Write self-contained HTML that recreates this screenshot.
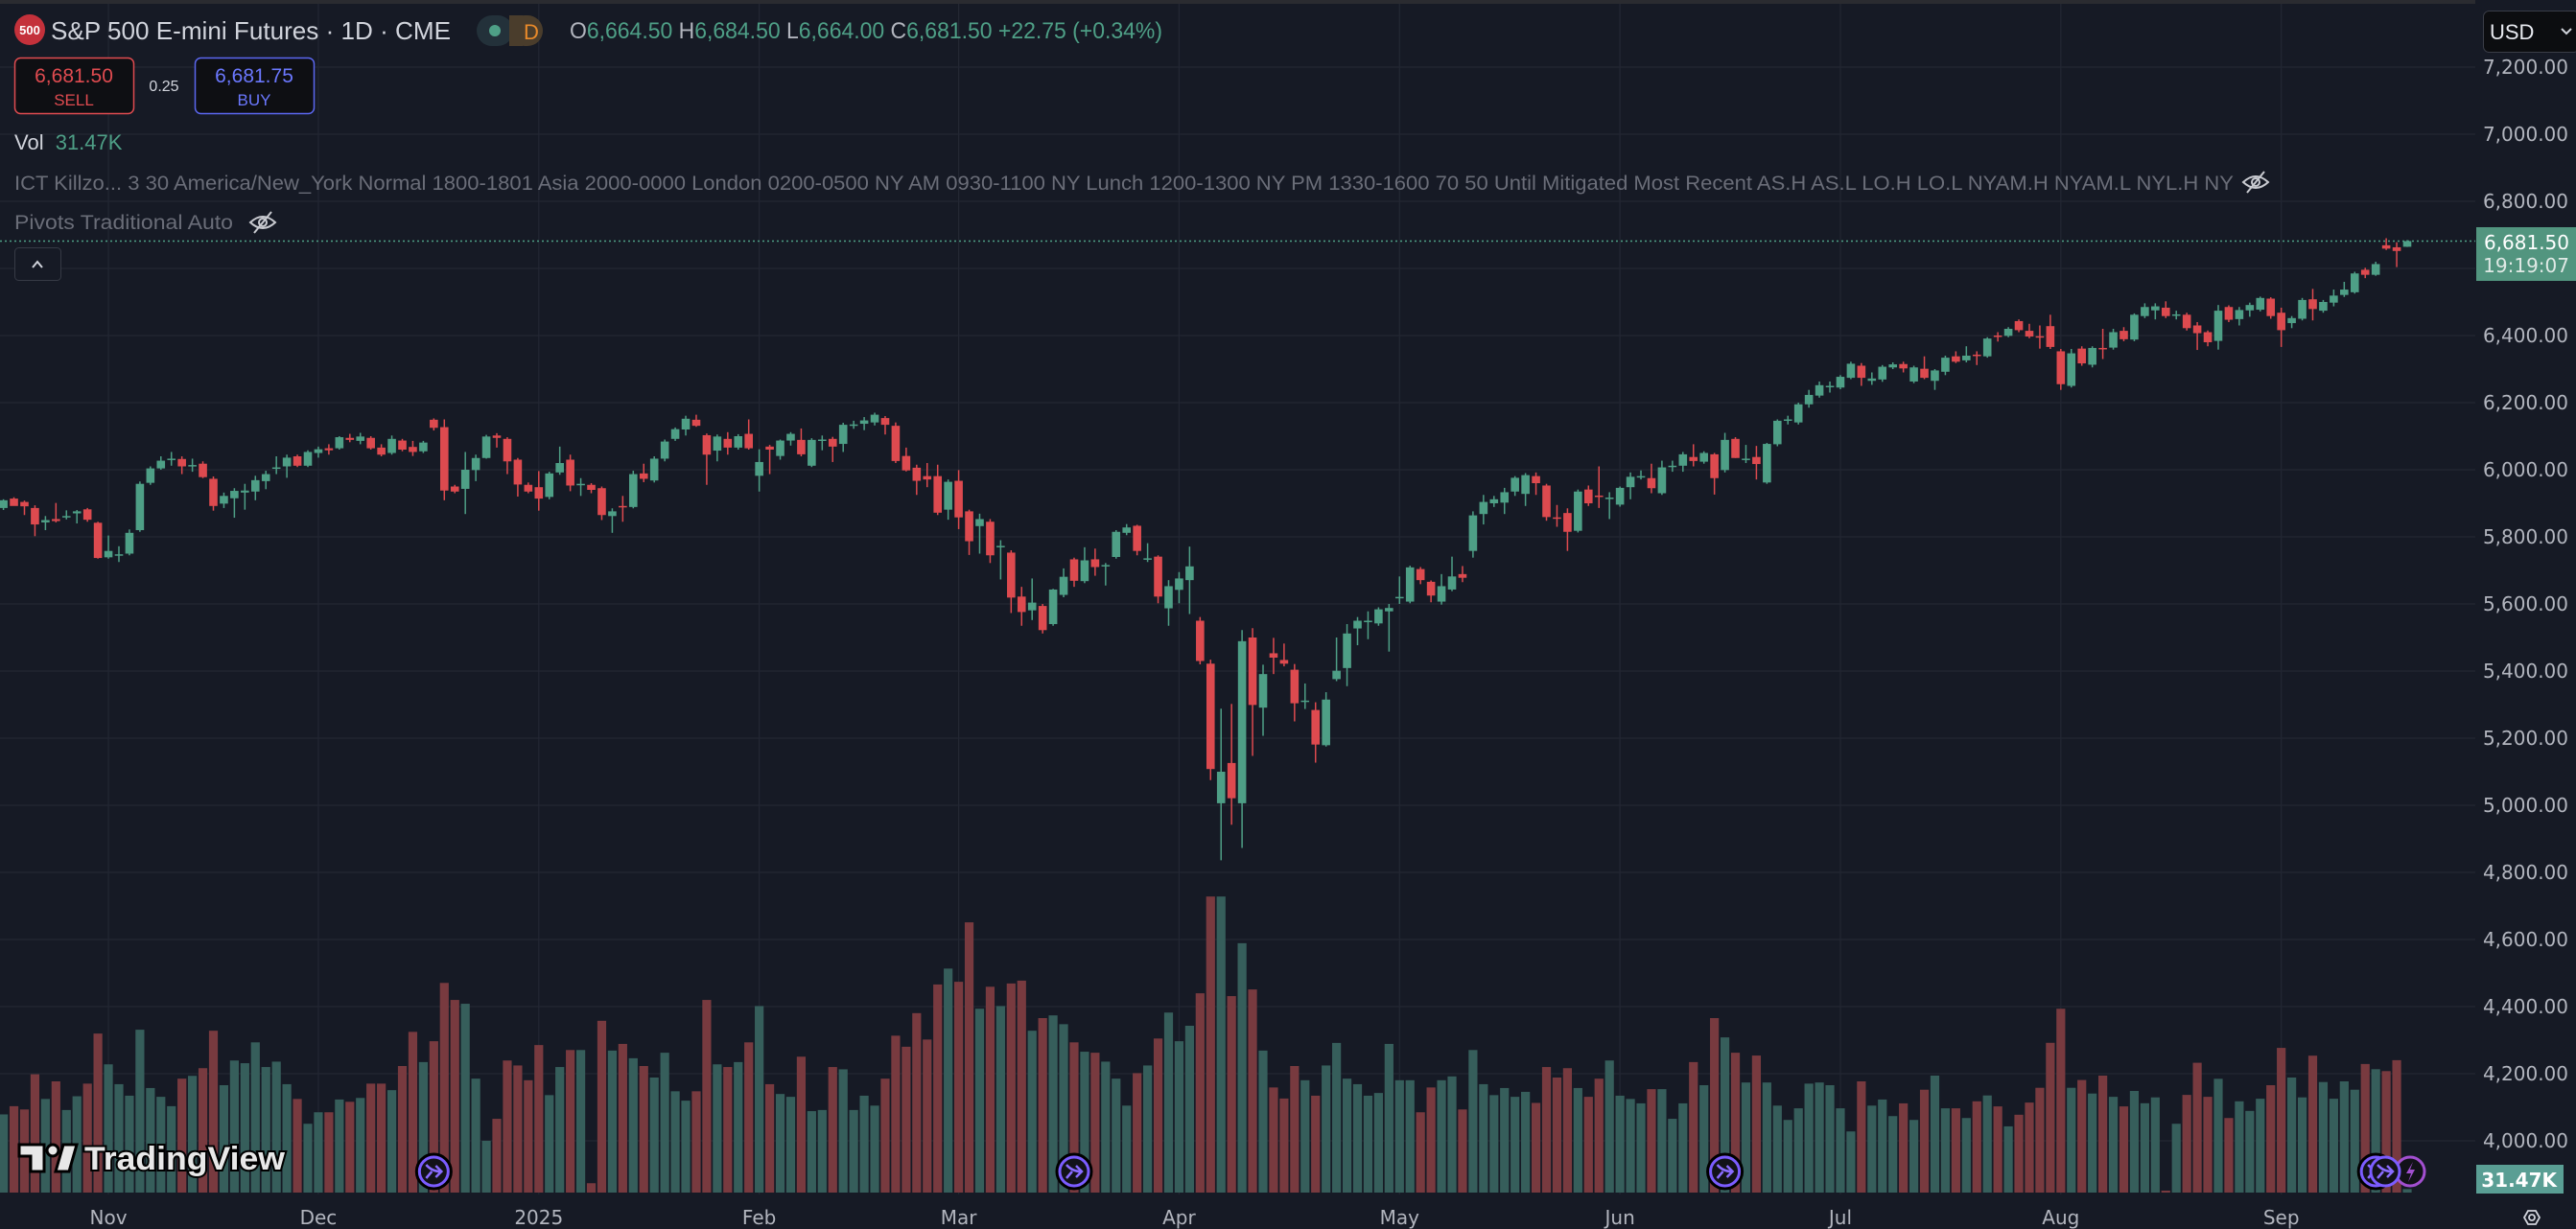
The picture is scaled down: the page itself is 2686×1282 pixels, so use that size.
<!DOCTYPE html>
<html><head><meta charset="utf-8">
<style>
html,body{margin:0;padding:0;background:#161a25;}
svg{display:block;}
text{font-family:"Liberation Sans","DejaVu Sans",sans-serif;}
.ax{font-family:"DejaVu Sans","Liberation Sans",sans-serif;font-size:20px;fill:#b2b5be;}
</style></head>
<body>
<svg id="chart" width="2686" height="1282" viewBox="0 0 2686 1282" xmlns="http://www.w3.org/2000/svg">
<rect x="0" y="0" width="2686" height="1282" fill="#161a25"/>
<rect x="0" y="0" width="2686" height="4" fill="#2a2b30"/>
<g id="grid"></g>
<g id="volumes"></g>
<g id="candles"></g>
<line id="priceline" x1="0" x2="2581" stroke="#4e9f86" stroke-width="1.5" stroke-dasharray="2,3"/>
<rect x="2581" y="0" width="105" height="1252" fill="#161a25"/>
<rect x="0" y="1246" width="2686" height="36" fill="#161a25"/>
<g id="yaxis"></g>
<g id="xaxis"></g>

<g>
  <circle cx="31" cy="31" r="16" fill="#c4313b"/>
  <text x="31" y="36" font-size="13" font-weight="bold" fill="#ffffff" text-anchor="middle">500</text>
  <text x="53" y="41" font-size="26" fill="#d1d4dc" textLength="417" lengthAdjust="spacingAndGlyphs">S&amp;P 500 E-mini Futures · 1D · CME</text>
  <rect x="497" y="16" width="38" height="32" rx="16" fill="#23313a"/>
  <rect x="531" y="16" width="35" height="32" rx="16" fill="#4a3d2c"/>
  <rect x="531" y="16" width="14" height="32" fill="#4a3d2c"/>
  <circle cx="516" cy="32" r="6" fill="#4e9f86"/>
  <text x="546" y="41" font-size="22" fill="#e98a2a">D</text>
  <text x="594" y="40" font-size="24" textLength="618" lengthAdjust="spacingAndGlyphs"><tspan fill="#b2b5be">O</tspan><tspan fill="#4e9f86">6,664.50 </tspan><tspan fill="#b2b5be">H</tspan><tspan fill="#4e9f86">6,684.50 </tspan><tspan fill="#b2b5be">L</tspan><tspan fill="#4e9f86">6,664.00 </tspan><tspan fill="#b2b5be">C</tspan><tspan fill="#4e9f86">6,681.50 +22.75 (+0.34%)</tspan></text>

  <g>
    <rect x="15.5" y="60.5" width="124" height="58" rx="6" fill="#0e0f13" stroke="#e04b50" stroke-width="1.5"/>
    <text x="77" y="86" font-size="21" fill="#e04b50" text-anchor="middle">6,681.50</text>
    <text x="77" y="110" font-size="17" fill="#e04b50" text-anchor="middle">SELL</text>
  </g>
  <text x="171" y="95" font-size="16" fill="#d1d4dc" text-anchor="middle">0.25</text>
  <g>
    <rect x="203.5" y="60.5" width="124" height="58" rx="6" fill="#0e0f13" stroke="#5b67f0" stroke-width="1.5"/>
    <text x="265" y="86" font-size="21" fill="#6b78ff" text-anchor="middle">6,681.75</text>
    <text x="265" y="110" font-size="17" fill="#6b78ff" text-anchor="middle">BUY</text>
  </g>
  <text x="15" y="156" font-size="22"><tspan fill="#d1d4dc">Vol </tspan><tspan fill="#4e9f86" dx="6">31.47K</tspan></text>
  <text x="15" y="198" font-size="21" fill="#6a6d78" textLength="2314" lengthAdjust="spacingAndGlyphs">ICT Killzo...  3 30 America/New_York Normal 1800-1801 Asia 2000-0000 London 0200-0500 NY AM 0930-1100 NY Lunch 1200-1300 NY PM 1330-1600 70 50 Until Mitigated Most Recent AS.H AS.L LO.H LO.L NYAM.H NYAM.L NYL.H NY</text>
  <g fill="none" stroke="#c8cad0" stroke-width="2">
    <path d="M2339 190 Q2352 178 2365 190 Q2352 202 2339 190 Z"/><circle cx="2352" cy="190" r="4"/><line x1="2343" y1="201" x2="2361" y2="179"/>
  </g>
  <text x="15" y="239" font-size="21" fill="#6a6d78" textLength="228" lengthAdjust="spacingAndGlyphs">Pivots Traditional Auto</text>
  <g fill="none" stroke="#c8cad0" stroke-width="2">
    <path d="M261 232 Q274 220 287 232 Q274 244 261 232 Z"/><circle cx="274" cy="232" r="4"/><line x1="265" y1="243" x2="283" y2="221"/>
  </g>
  <g>
    <rect x="15.5" y="258.5" width="48" height="34" rx="4" fill="#161a25" stroke="#363a45"/>
    <path d="M34 279 L39 273 L44 279" fill="none" stroke="#d1d4dc" stroke-width="2"/>
  </g>
  <g>
    <rect x="2589.5" y="11.5" width="100" height="43" rx="6" fill="#0c0d10" stroke="#3a3d47"/>
    <text x="2596" y="41" font-size="22" fill="#e8eaf0">USD</text>
    <path d="M2671 30 L2676 35 L2681 30" fill="none" stroke="#d1d4dc" stroke-width="2"/>
  </g>
</g>

<g>
  <rect x="2582" y="237" width="104" height="56" fill="#52957f"/>
  <text x="2679" y="260" class="ax" text-anchor="end" style="fill:#ffffff">6,681.50</text>
  <text x="2679" y="284" class="ax" text-anchor="end" style="fill:#dfe9e5">19:19:07</text>
</g>
<g>
  <rect x="2582" y="1215" width="91" height="30" fill="#5a9e94"/>
  <text x="2666" y="1238" class="ax" text-anchor="end" font-weight="bold" style="fill:#ffffff">31.47K</text>
</g>

<g>
  <path d="M20 1194 H46 V1222 H32 V1206 H20 Z" fill="#e8e8e8" stroke="#000" stroke-width="3"/>
  <circle cx="55" cy="1200" r="6" fill="#e8e8e8" stroke="#000" stroke-width="3"/>
  <path d="M58 1222 L66 1194 H80 L72 1222 Z" fill="#e8e8e8" stroke="#000" stroke-width="3"/>
  <text x="88" y="1220" font-size="34" font-weight="bold" fill="#e8e8e8" stroke="#000" stroke-width="4" paint-order="stroke" textLength="209" lengthAdjust="spacingAndGlyphs">TradingView</text>
</g>
<g id="events"></g>
<g>
  <path d="M2632 1270 L2636 1263 H2644 L2648 1270 L2644 1277 H2636 Z" fill="none" stroke="#d1d4dc" stroke-width="1.8"/>
  <circle cx="2640" cy="1270" r="3" fill="none" stroke="#d1d4dc" stroke-width="1.8"/>
</g>
</svg>
<script>
const opens=[5886,5914,5904,5886,5843,5853,5858,5870,5882,5842,5739,5745,5750,5820,5961,6004,6030,6032,6010,6018,5973,5899,5915,5932,5935,5966,6005,6010,6040,6012,6050,6064,6064,6095,6086,6095,6066,6050,6087,6068,6055,6149,6127,5950,5943,5999,6035,6102,6092,6030,5955,5948,5919,5992,6030,5955,5955,5945,5862,5892,5889,5989,5968,6033,6092,6120,6149,6103,6057,6092,6066,6107,5982,6069,6041,6087,6089,6012,6087,6092,6077,6133,6137,6141,6154,6131,6041,6006,5981,5981,5881,5967,5876,5832,5845,5770,5753,5622,5581,5594,5540,5627,5733,5668,5733,5714,5740,5812,5833,5734,5741,5587,5642,5671,5550,5422,5006,5126,5006,5500,5291,5453,5433,5404,5308,5284,5179,5376,5409,5527,5547,5542,5578,5618,5607,5704,5666,5607,5643,5689,5758,5868,5900,5902,5935,5928,5981,5953,5858,5871,5818,5941,5923,5914,5896,5948,5980,5975,5930,6010,6012,6038,6024,6046,5999,6092,6030,6038,5962,6076,6147,6141,6195,6221,6248,6245,6274,6310,6265,6269,6305,6315,6263,6301,6265,6292,6338,6326,6343,6338,6400,6399,6443,6414,6398,6428,6353,6250,6361,6313,6363,6364,6414,6388,6458,6475,6483,6461,6462,6430,6410,6384,6485,6449,6475,6477,6510,6468,6437,6450,6508,6474,6498,6521,6529,6596,6581,6669,6663,6664.5];
const highs=[5912,5918,5908,5894,5862,5901,5879,5880,5886,5845,5804,5772,5822,5965,6010,6040,6053,6040,6033,6025,5980,5932,5945,5958,5982,5997,6040,6045,6045,6058,6069,6076,6100,6107,6110,6100,6076,6102,6092,6086,6086,6153,6150,5955,6053,6045,6104,6109,6097,6035,5962,5996,5994,6069,6045,5975,5960,5950,5885,5922,5997,6018,6040,6090,6126,6161,6164,6108,6105,6112,6106,6150,6061,6074,6090,6112,6123,6094,6102,6098,6140,6146,6157,6170,6160,6141,6066,6015,6020,6015,5971,5999,5881,5869,5853,5790,5760,5651,5676,5600,5645,5706,5738,5769,5765,5722,5820,5838,5836,5781,5745,5671,5695,5771,5561,5434,5288,5302,5522,5528,5419,5499,5482,5421,5363,5307,5337,5500,5540,5561,5578,5590,5600,5682,5714,5710,5670,5689,5741,5713,5876,5925,5922,5946,5981,5990,5992,5958,5895,5885,5941,5953,6010,5933,5950,5992,5998,6018,6027,6027,6053,6076,6055,6050,6110,6097,6074,6071,6080,6150,6161,6200,6238,6263,6263,6282,6322,6318,6290,6312,6320,6322,6310,6338,6300,6340,6353,6368,6353,6395,6410,6425,6448,6435,6430,6462,6360,6360,6368,6368,6420,6420,6425,6466,6496,6496,6502,6474,6468,6440,6415,6491,6490,6485,6498,6516,6514,6483,6458,6512,6539,6506,6537,6560,6590,6602,6620,6690,6678,6684.5];
const lows=[5880,5895,5865,5802,5820,5843,5852,5840,5845,5735,5735,5725,5745,5815,5955,6000,6012,5987,5994,5975,5878,5886,5857,5881,5909,5942,5987,5976,6008,6008,6036,6045,6060,6082,6076,6060,6040,6045,6055,6041,6050,6117,5909,5930,5868,5966,6033,6066,5987,5920,5930,5878,5912,5985,5936,5922,5930,5850,5812,5845,5885,5963,5962,6025,6086,6102,6128,5955,6025,6045,6060,6060,5935,5987,6030,6072,6040,6008,6058,6023,6053,6122,6118,6132,6105,6020,5995,5925,5948,5865,5851,5823,5746,5750,5722,5673,5573,5535,5552,5512,5535,5620,5651,5662,5684,5655,5735,5805,5745,5725,5602,5535,5602,5570,5420,5075,4836,4942,4873,5147,5207,5391,5414,5250,5287,5127,5175,5370,5355,5477,5495,5535,5458,5600,5602,5659,5605,5598,5638,5665,5738,5837,5889,5868,5922,5892,5925,5848,5830,5758,5813,5892,5886,5853,5890,5912,5971,5930,5925,5994,5994,6010,6018,5926,5992,6035,6020,5971,5958,6070,6135,6135,6185,6215,6230,6240,6270,6250,6253,6262,6300,6290,6258,6270,6238,6282,6318,6320,6312,6334,6382,6395,6410,6392,6361,6360,6238,6245,6310,6305,6330,6358,6383,6383,6452,6448,6452,6448,6415,6357,6368,6358,6440,6430,6456,6472,6450,6366,6422,6445,6445,6468,6487,6515,6525,6571,6578,6655,6604,6664];
const closes=[5909,5892,5891,5837,5850,5847,5862,5876,5851,5737,5758,5748,5812,5958,6004,6027,6033,6010,6014,5978,5892,5922,5937,5938,5969,5987,6007,6036,6012,6053,6061,6058,6097,6089,6099,6064,6045,6092,6060,6053,6081,6125,5938,5935,6000,6035,6099,6095,6025,5956,5935,5914,5989,6020,5953,5958,5940,5865,5876,5888,5987,5973,6033,6084,6121,6152,6131,6045,6099,6066,6100,6064,6023,6060,6087,6107,6046,6089,6090,6069,6134,6135,6147,6164,6134,6026,5998,5967,5971,5872,5964,5858,5787,5853,5745,5773,5619,5576,5604,5522,5643,5681,5669,5730,5710,5716,5815,5828,5758,5736,5622,5653,5676,5712,5430,5108,5100,5021,5489,5299,5391,5440,5422,5304,5312,5181,5315,5401,5512,5550,5550,5584,5588,5621,5709,5671,5625,5653,5682,5678,5864,5904,5912,5933,5976,5984,5960,5859,5856,5815,5935,5900,5921,5917,5946,5979,5981,5945,6007,6012,6046,6026,6050,5975,6089,6035,6033,6017,6077,6146,6150,6195,6223,6252,6250,6277,6316,6274,6272,6307,6314,6302,6305,6274,6296,6334,6322,6340,6341,6391,6398,6420,6416,6397,6395,6366,6255,6347,6317,6363,6360,6410,6389,6462,6485,6487,6458,6463,6422,6407,6380,6474,6447,6476,6491,6512,6458,6416,6452,6506,6479,6500,6519,6537,6585,6581,6613,6659,6652,6681.5];
const volumes=[693,766,737,1049,830,986,732,854,966,1410,1137,961,859,1444,927,849,766,1010,1035,1103,1435,952,1171,1147,1332,1113,1161,961,830,610,712,712,825,805,839,966,966,908,1122,1425,1157,1342,1859,1708,1674,1010,459,654,1171,1127,996,1308,864,1113,1264,1264,83,1523,1259,1318,1191,1122,1020,1240,898,815,898,1708,1137,1113,1157,1332,1654,961,874,849,1205,722,732,1113,1093,732,859,771,1010,1391,1293,1591,1357,1845,1986,1869,2396,1630,1825,1654,1854,1879,1435,1547,1571,1493,1332,1249,1240,1161,1010,771,1059,1127,1366,1596,1342,1479,1767,2625,2625,1742,2211,1801,1259,932,834,1122,996,859,1127,1327,1010,961,859,883,1318,996,996,712,932,996,1030,737,1264,961,864,927,849,893,795,1113,1020,1103,927,849,1010,1171,859,830,791,917,917,654,791,1157,952,1547,1376,1240,976,1215,976,771,644,747,966,976,952,747,542,986,771,825,678,791,644,912,1037,747,747,661,809,861,764,587,690,798,929,1328,1630,929,998,878,1037,849,764,901,792,844,17,610,866,1151,849,1009,661,809,724,832,952,1283,1020,844,1214,980,832,986,912,1140,1094,1077,1174,31];
const priceTicks=[7200,7000,6800,6400,6200,6000,5800,5600,5400,5200,5000,4800,4600,4400,4200,4000];
const gridTicks=[7200,7000,6800,6600,6400,6200,6000,5800,5600,5400,5200,5000,4800,4600,4400,4200,4000];
const monthLabels=["Nov","Dec","2025","Feb","Mar","Apr","May","Jun","Jul","Aug","Sep"];
const monthIndex=[10,30,51,72,91,112,133,154,175,196,217];
const eventIndex=[41,102,164,226];

const NS="http://www.w3.org/2000/svg";
function xOf(i){return 3.6+10.945*i;}
function yOf(p){return 70+(7200-p)*0.35;}
const VOL_BASE=1244, VOL_SCALE=8.5;
function vH(v){return v/VOL_SCALE;}
function mk(tag,attrs,parent){const e=document.createElementNS(NS,tag);for(const k in attrs)e.setAttribute(k,attrs[k]);parent.appendChild(e);return e;}

const grid=document.getElementById('grid');
gridTicks.forEach(t=>{
  const l=mk('line',{x1:0,x2:2581,y1:yOf(t),y2:yOf(t),stroke:'#232733','stroke-width':1.2},grid);
  
  
});
monthIndex.forEach(i=>{
  const l=mk('line',{x1:xOf(i),x2:xOf(i),y1:4,y2:1246,stroke:'#232733','stroke-width':1.2},grid);
  
  
});

const vg=document.getElementById('volumes');
volumes.forEach((v,i)=>{
  const up=closes[i]>=opens[i];
  const h=vH(v);
  const r=mk('rect',{x:xOf(i)-4.6,y:VOL_BASE-h,width:9.2,height:h,fill:up?'#365e5b':'#783a3f'},vg);
  
  
});

const cg=document.getElementById('candles');
opens.forEach((o,i)=>{
  const c=closes[i],up=c>=o,col=up?'#4e9f86':'#dd4a4f',x=xOf(i);
  const g=mk('g',{},cg);
  
  
  mk('line',{x1:x,x2:x,y1:yOf(highs[i]),y2:yOf(lows[i]),stroke:col,'stroke-width':1.5},g);
  const top=yOf(Math.max(o,c)),bot=yOf(Math.min(o,c));
  mk('rect',{x:x-4.3,y:top,width:8.6,height:Math.max(1.5,bot-top),fill:col},g);
});

const pl=document.getElementById('priceline');
pl.setAttribute('y1',yOf(closes[closes.length-1]));
pl.setAttribute('y2',yOf(closes[closes.length-1]));

const ya=document.getElementById('yaxis');
priceTicks.forEach(t=>{
  const tx=mk('text',{x:2678,y:yOf(t)+7,'text-anchor':'end',class:'ax'},ya);
  tx.textContent=t.toLocaleString('en-US',{minimumFractionDigits:2});
  
  
});
const xa=document.getElementById('xaxis');
monthLabels.forEach((m,k)=>{
  const tx=mk('text',{x:xOf(monthIndex[k]),y:1277,'text-anchor':'middle',class:'ax'},xa);
  tx.textContent=m;
  
  
});

const ev=document.getElementById('events');
eventIndex.forEach(i=>{
  const g=mk('g',{},ev);
  
  
  const cx=xOf(i);
  mk('circle',{cx:cx,cy:1222,r:17,fill:'#121219',stroke:'#000','stroke-width':5},g);
  mk('circle',{cx:cx,cy:1222,r:15,fill:'#121219',stroke:'#7b5cff','stroke-width':3},g);
  mk('path',{d:`M${cx-8} ${1215} Q${cx-2} ${1222} ${cx+7} ${1222} M${cx-8} ${1229} L${cx-2} ${1222} M${cx+2} ${1216} L${cx+8} ${1222} L${cx+2} ${1228}`,fill:'none',stroke:'#8a6cff','stroke-width':2.5},g);
});
(function(){
  const g=mk('g',{},ev);
  
  
  const cx=2513;
  mk('circle',{cx:cx,cy:1222,r:15,fill:'#121219',stroke:'#a24fd0','stroke-width':3},g);
  mk('path',{d:`M${cx+3} 1212 L${cx-4} 1224 H${cx+1} L${cx-2} 1233 L${cx+5} 1220 H${cx} Z`,fill:'#a24fd0'},g);
  const g2=mk('g',{},ev);
  
  
  const c2=2487;
  mk('circle',{cx:c2,cy:1222,r:15,fill:'#121219',stroke:'#7b5cff','stroke-width':3},g2);
  mk('path',{d:`M${c2-8} 1215 Q${c2-2} 1222 ${c2+7} 1222 M${c2-8} 1229 L${c2-2} 1222 M${c2+2} 1216 L${c2+8} 1222 L${c2+2} 1228`,fill:'none',stroke:'#8a6cff','stroke-width':2.5},g2);
})();
</script>
</body></html>
